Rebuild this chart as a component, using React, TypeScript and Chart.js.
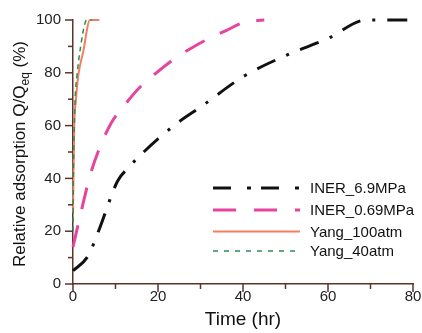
import React, { useEffect, useRef } from "react";
import { Chart, registerables } from "chart.js";

Chart.register(...registerables);

const X_TICKS = [0, 20, 40, 60, 80];
const Y_TICKS = [0, 20, 40, 60, 80, 100];

const SERIES_NAMES = ["INER_6.9MPa", "INER_0.69MPa", "Yang_100atm", "Yang_40atm"];

const INER69_X = [0, 3.5, 6, 10.5, 13, 16, 20, 25, 30, 40, 50, 60, 69, 80];
const INER69_Y = [5, 10.5, 20, 39, 44, 49, 55, 61.5, 67, 78.5, 86.5, 93, 100, 100];

const INER069_X = [0, 2, 4, 6, 9, 13, 16, 20, 24, 28, 32, 36, 40, 45];
const INER069_Y = [14, 28, 41, 50.5, 61, 69.5, 75, 80.5, 85.5, 89.5, 93, 96, 99, 100];

const YANG100_X = [0, 0.1, 0.3, 0.7, 1.25, 2.4, 4, 6.2];
const YANG100_Y = [27, 40, 60, 70, 79, 88, 100, 100];

const YANG40_X = [0, 0.05, 0.2, 0.5, 0.9, 1.8, 2.8, 3.2, 4.4];
const YANG40_Y = [20, 35, 52, 70, 78.5, 90, 98.7, 100, 100];

const AXIS_COLOR = "#5a3528";
const FONT = "Arial, 'Liberation Sans', sans-serif";

const COLORS = ["#111111", "#e6449e", "#f47f5e", "#2e8b57"];
const WIDTHS = [3, 3, 2, 1.5];
const DASHES = [[20, 12, 3, 12], [22, 17], [], [5, 4]];
const LEGEND_DASHES = [[18, 16, 4, 10], [23, 18], [], [5, 6]];

function pts(xs: number[], ys: number[]) {
  return xs.map((x, i) => ({ x, y: ys[i] }));
}

const customPlugin = {
  id: "custom",
  afterDraw(chart: any) {
    const ctx = chart.ctx;
    const xs = chart.scales.x;
    const ys = chart.scales.y;
    const area = chart.chartArea;
    ctx.save();
    // ticks
    ctx.strokeStyle = AXIS_COLOR;
    ctx.lineWidth = 1.5;
    for (let v = 0; v <= 80; v += 10) {
      const px = xs.getPixelForValue(v);
      const len = v % 20 === 0 ? 8 : 5;
      ctx.beginPath();
      ctx.moveTo(px, area.bottom);
      ctx.lineTo(px, area.bottom + len);
      ctx.stroke();
    }
    for (let v = 0; v <= 100; v += 10) {
      const py = ys.getPixelForValue(v);
      const len = v % 20 === 0 ? 8 : 5;
      ctx.beginPath();
      ctx.moveTo(area.left, py);
      ctx.lineTo(area.left - len, py);
      ctx.stroke();
    }
    // legend
    const rows = [188, 210, 231.5, 251];
    ctx.font = `15px ${FONT}`;
    ctx.textBaseline = "middle";
    ctx.textAlign = "left";
    SERIES_NAMES.forEach((name, i) => {
      ctx.strokeStyle = COLORS[i];
      ctx.lineWidth = WIDTHS[i];
      ctx.setLineDash(LEGEND_DASHES[i]);
      ctx.beginPath();
      ctx.moveTo(213, rows[i]);
      ctx.lineTo(300, rows[i]);
      ctx.stroke();
      ctx.setLineDash([]);
      ctx.fillStyle = "#111";
      ctx.fillText(name, 310, rows[i] + 1);
    });
    // x title
    ctx.font = `19px ${FONT}`;
    ctx.textAlign = "center";
    ctx.textBaseline = "alphabetic";
    ctx.fillStyle = "#111";
    ctx.fillText("Time (hr)", (area.left + area.right) / 2, 325);
    // y title with subscript
    const main = "Relative adsorption Q/Q";
    const sub = "eq";
    const tail = " (%)";
    const big = `17px ${FONT}`;
    const small = `12px ${FONT}`;
    ctx.font = big;
    const w1 = ctx.measureText(main).width;
    const w3 = ctx.measureText(tail).width;
    ctx.font = small;
    const w2 = ctx.measureText(sub).width;
    const total = w1 + w2 + w3;
    ctx.translate(25, 154);
    ctx.rotate(-Math.PI / 2);
    ctx.textAlign = "left";
    let x = -total / 2;
    ctx.font = big;
    ctx.fillText(main, x, 0);
    x += w1;
    ctx.font = small;
    ctx.fillText(sub, x, 4);
    x += w2;
    ctx.font = big;
    ctx.fillText(tail, x, 0);
    ctx.restore();
  },
};

export default function App() {
  const ref = useRef<HTMLCanvasElement | null>(null);
  useEffect(() => {
    if (!ref.current) return;
    const allX = [INER69_X, INER069_X, YANG100_X, YANG40_X];
    const allY = [INER69_Y, INER069_Y, YANG100_Y, YANG40_Y];
    const order = [3, 2, 1, 0];
    const chart = new Chart(ref.current, {
      type: "line",
      data: {
        datasets: order.map((i) => ({
          label: SERIES_NAMES[i],
          data: pts(allX[i], allY[i]),
          borderColor: COLORS[i],
          backgroundColor: COLORS[i],
          borderWidth: WIDTHS[i],
          borderDash: DASHES[i],
          pointRadius: 0,
          fill: false,
          cubicInterpolationMode: "monotone" as const,
          clip: 4,
        })),
      },
      options: {
        responsive: false,
        animation: false,
        layout: { padding: { top: 20, right: 9, left: 0, bottom: 0 } },
        plugins: { legend: { display: false }, tooltip: { enabled: false } },
        scales: {
          x: {
            type: "linear",
            min: 0,
            max: 80,
            afterBuildTicks: (s: any) => {
              s.ticks = X_TICKS.map((v) => ({ value: v }));
            },
            ticks: {
              font: { size: 15, family: FONT },
              color: "#222",
              padding: 0,
              maxRotation: 0,
              autoSkip: false,
            },
            grid: { display: false, drawTicks: true, tickLength: 4 },
            border: { display: true, color: AXIS_COLOR, width: 1.5 },
            afterFit: (s: any) => {
              s.height = 49;
            },
          },
          y: {
            type: "linear",
            min: 0,
            max: 100,
            afterBuildTicks: (s: any) => {
              s.ticks = Y_TICKS.map((v) => ({ value: v }));
            },
            ticks: {
              font: { size: 15, family: FONT },
              color: "#222",
              padding: 4,
              autoSkip: false,
            },
            grid: { display: false, drawTicks: true, tickLength: 8 },
            border: { display: true, color: AXIS_COLOR, width: 1.5 },
            afterFit: (s: any) => {
              s.width = 73;
            },
          },
        },
      },
      plugins: [customPlugin],
    });
    return () => chart.destroy();
  }, []);
  return (
    <div style={{ position: "fixed", left: 0, top: 0, width: 422, height: 333, background: "#fff" }}>
      <canvas ref={ref} width={422} height={333} style={{ width: 422, height: 333 }} />
    </div>
  );
}
